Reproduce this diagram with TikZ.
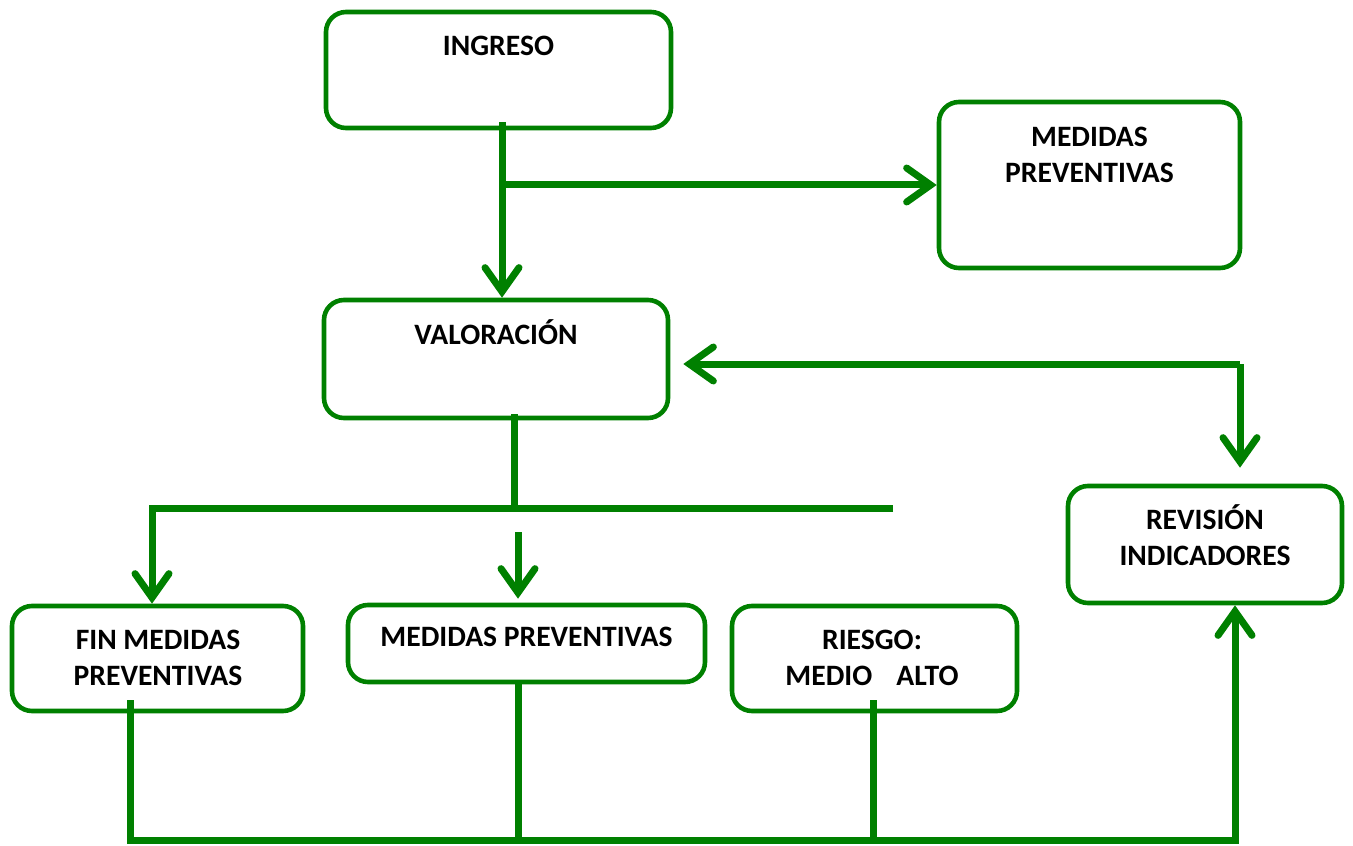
\documentclass[tikz,border=0pt]{standalone}
\usepackage{fontspec}
\setmainfont{Carlito}
\usetikzlibrary{arrows.meta}
\definecolor{flowgreen}{RGB}{0,128,0}

\begin{document}
\begin{tikzpicture}[
    x=0.5pt, y=-0.5pt,
    box/.style={%
      draw=flowgreen,
      line width=2.3pt,
      rectangle,
      rounded corners=10pt,
      inner sep=0pt,
    },
    lbl/.style={%
      anchor=base,
      align=center,
      inner sep=0pt,
      font=\fontsize{14.8}{18}\selectfont\bfseries,
    },
    conn/.style={%
      draw=flowgreen,
      line width=3.5pt,
    },
    arr/.style={%
      conn,
      -{Straight Barb[length=12pt,width=17pt,line cap=round]},
    },
  ]

    \useasboundingbox (0,0) rectangle (1353,845);

    \node [box, minimum width=172.5pt, minimum height=58pt] (ingreso) at (498.5,70) {};
    \node [box, minimum width=150.5pt, minimum height=83pt] (medprev) at (1089.5,185) {};
    \node [box, minimum width=172pt, minimum height=59pt] (valor) at (496,359) {};
    \node [box, minimum width=137pt, minimum height=58.5pt] (revis) at (1205,544.5) {};
    \node [box, minimum width=145.5pt, minimum height=52.5pt] (fin) at (157.5,658.5) {};
    \node [box, minimum width=178.5pt, minimum height=38.5pt] (medio) at (526.5,643.5) {};
    \node [box, minimum width=142.5pt, minimum height=52.5pt] (riesgo) at (874.5,658.5) {};

    \node [lbl] (ingreso-t) at (498.5,55.5) {INGRESO};
    \node [lbl] (medprev-t) at (1089.5,183) {MEDIDAS\\PREVENTIVAS};
    \node [lbl] (valor-t) at (496,344.5) {VALORACIÓN};
    \node [lbl] (revis-t) at (1205,565.5) {REVISIÓN\\INDICADORES};
    \node [lbl] (fin-t) at (158,685) {FIN MEDIDAS\\PREVENTIVAS};
    \node [lbl] (medio-t) at (526.5,646) {MEDIDAS PREVENTIVAS};
    \node [lbl] (riesgo-t) at (872,685) {RIESGO:\\MEDIO\ \ \ \hspace{2pt}ALTO};

    \coordinate (j1) at (502,185);
    \coordinate (j2) at (1240,364);
    \coordinate (j3) at (514,508);
    \coordinate (hl) at (152,508);
    \coordinate (hr) at (893,508);
    \coordinate (m1) at (518,532);
    \coordinate (f1) at (130,700);
    \coordinate (m2) at (518,684);
    \coordinate (r1) at (873,700);
    \coordinate (br) at (1235,840);

    \draw [arr] (j1 |- 0,122) -- (valor.north -| j1);
    \draw [arr] (j1) -- (medprev.west |- j1);
    \draw [arr, shorten >=6.5pt] (j2) -- (valor.east |- j2);
    \draw [arr, shorten >=8pt] (j2) -- (revis.north -| j2);
    \draw [conn] (valor.south -| j3) ++(0,-6) -- (j3);
    \draw [arr] (hr) -- (hl) -- (fin.north -| hl);
    \draw [arr, shorten >=2pt] (m1) -- (medio.north -| m1);
    \draw [arr] (f1) |- (br) -- (revis.south -| br);
    \draw [conn] (m2) -- (m2 |- br);
    \draw [conn] (r1) -- (r1 |- br);
    \end{tikzpicture}
\end{document}
